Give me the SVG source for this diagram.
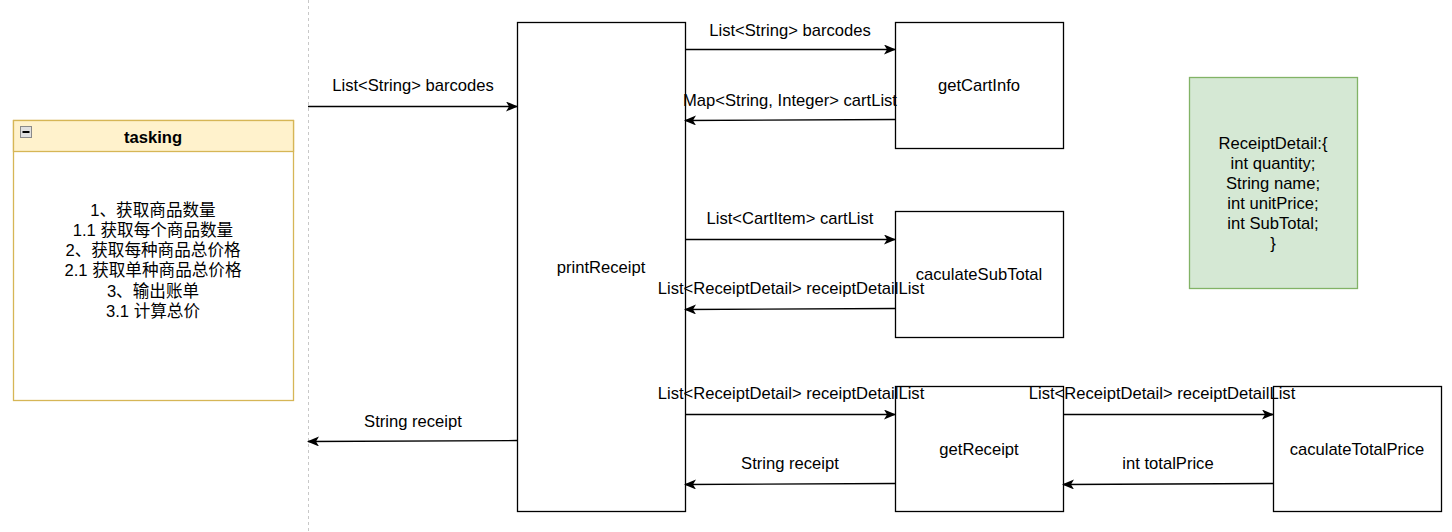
<svg xmlns="http://www.w3.org/2000/svg" width="1452" height="532" viewBox="0 0 1452 532">
  <style>
    text { font-family: "Liberation Sans", Arial, "Noto Sans CJK SC", sans-serif; font-size: 16.6px; fill: #000; text-anchor: middle; }
    .box { fill: #fff; stroke: #000; stroke-width: 1.3; }
    .edge { fill: none; stroke: #000; stroke-width: 1.3; }
    .title { font-weight: bold; }
  </style>
  <defs>
    <marker id="arrow" viewBox="0 0 12 10" refX="11" refY="5" markerWidth="12" markerHeight="10" markerUnits="userSpaceOnUse" orient="auto">
      <path d="M0,0 L12,5 L0,10 L3,5 Z" fill="#000"/>
    </marker>
  </defs>
  <rect width="1452" height="532" fill="#fff"/>

  <!-- page divider -->
  <line x1="308.5" y1="0" x2="308.5" y2="532" stroke="#c8c8c8" stroke-width="1" stroke-dasharray="3,3"/>

  <!-- task list container -->
  <g id="tasking">
    <rect x="13.5" y="120.5" width="280" height="280" fill="#fff" stroke="#d6b656" stroke-width="1.3"/>
    <rect x="13.5" y="120.5" width="280" height="31" fill="#fff2cc" stroke="#d6b656" stroke-width="1.3"/>
    <rect x="20.5" y="126.5" width="11" height="11" fill="#e0e0e0" stroke="#8a8a8a" stroke-width="1"/>
    <line x1="22.5" y1="132" x2="29.5" y2="132" stroke="#000" stroke-width="2"/>
    <text class="title" x="153" y="143">tasking</text>
    <text x="153" y="216">1、获取商品数量</text>
    <text x="153" y="236">1.1 获取每个商品数量</text>
    <text x="153" y="256">2、获取每种商品总价格</text>
    <text x="153" y="276">2.1 获取单种商品总价格</text>
    <text x="153" y="297">3、输出账单</text>
    <text x="153" y="317">3.1 计算总价</text>
  </g>

  <g id="printReceipt">
    <rect class="box" x="517.5" y="22.5" width="168" height="489"/>
    <text x="601" y="273">printReceipt</text>
  </g>

  <g id="getCartInfo">
    <rect class="box" x="895.5" y="22.5" width="168" height="126"/>
    <text x="979" y="91">getCartInfo</text>
  </g>

  <g id="caculateSubTotal">
    <rect class="box" x="895.5" y="211.5" width="168" height="126"/>
    <text x="979" y="280">caculateSubTotal</text>
  </g>

  <g id="getReceipt">
    <rect class="box" x="895.5" y="386.5" width="168" height="125"/>
    <text x="979" y="455">getReceipt</text>
  </g>

  <g id="caculateTotalPrice">
    <rect class="box" x="1273.5" y="386.5" width="168" height="125"/>
    <text x="1357" y="455">caculateTotalPrice</text>
  </g>

  <g id="receiptDetail">
    <rect x="1189.5" y="77.5" width="168" height="211" fill="#d5e8d4" stroke="#82b366" stroke-width="1.3"/>
    <text x="1273" y="149">ReceiptDetail:{</text>
    <text x="1273" y="169">int quantity;</text>
    <text x="1273" y="189">String name;</text>
    <text x="1273" y="209">int unitPrice;</text>
    <text x="1273" y="229">int SubTotal;</text>
    <text x="1273" y="249">}</text>
  </g>

  <g id="connectors">
    <line class="edge" x1="308" y1="106.5" x2="517" y2="106.5" marker-end="url(#arrow)"/>
    <line class="edge" x1="685" y1="49.5" x2="895" y2="49.5" marker-end="url(#arrow)"/>
    <line class="edge" x1="895" y1="119.5" x2="685" y2="120.5" marker-end="url(#arrow)"/>
    <line class="edge" x1="685" y1="239.5" x2="895" y2="239.5" marker-end="url(#arrow)"/>
    <line class="edge" x1="895" y1="308.5" x2="685" y2="309.5" marker-end="url(#arrow)"/>
    <line class="edge" x1="685" y1="414.5" x2="895" y2="414.5" marker-end="url(#arrow)"/>
    <line class="edge" x1="895" y1="483.5" x2="685" y2="484.5" marker-end="url(#arrow)"/>
    <line class="edge" x1="1063" y1="414.5" x2="1273" y2="414.5" marker-end="url(#arrow)"/>
    <line class="edge" x1="1273" y1="483.5" x2="1063" y2="484.5" marker-end="url(#arrow)"/>
    <line class="edge" x1="517" y1="440.5" x2="308" y2="441.5" marker-end="url(#arrow)"/>

    <text x="413" y="91">List&lt;String&gt; barcodes</text>
    <text x="790" y="36">List&lt;String&gt; barcodes</text>
    <text x="790" y="106">Map&lt;String, Integer&gt; cartList</text>
    <text x="790" y="224">List&lt;CartItem&gt; cartList</text>
    <text x="791" y="294">List&lt;ReceiptDetail&gt; receiptDetailList</text>
    <text x="791" y="399">List&lt;ReceiptDetail&gt; receiptDetailList</text>
    <text x="790" y="469">String receipt</text>
    <text x="1162" y="399">List&lt;ReceiptDetail&gt; receiptDetailList</text>
    <text x="1168" y="469">int totalPrice</text>
    <text x="413" y="427">String receipt</text>
  </g>
</svg>
